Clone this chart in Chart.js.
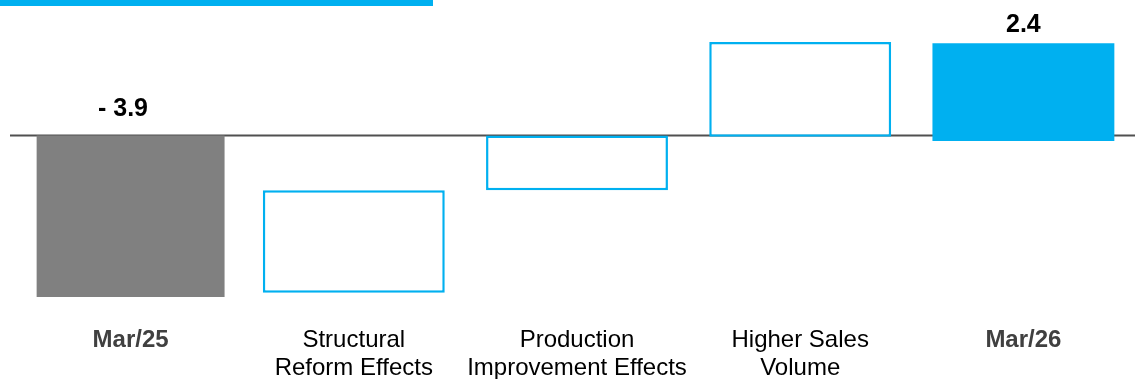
<!DOCTYPE html>
<html>
<head>
<meta charset="utf-8">
<script src="https://cdn.jsdelivr.net/npm/chart.js@4/dist/chart.umd.min.js"></script>
<style>
    body { margin: 0; background: #fff; }
    #wrap { position: relative; width: 1135px; height: 379px; }
    #topBar { position: absolute; left: 0; top: 0; width: 433px; height: 6px; background: #00b0f0; }
</style>
</head>
<body>
<div id="wrap">
    <canvas id="bridgeChart"></canvas>
    <div id="topBar"></div>
</div>
<script>
// Données (pont Mar/25 -> Mar/26)
const categories = [
    'Mar/25',
    ['Structural', 'Reform Effects'],
    ['Production', 'Improvement Effects'],
    ['Higher Sales', 'Volume'],
    'Mar/26'
];
const startBar = [[0, -3.9], null, null, null, null];
const stepBars = [null, [-3.8, -1.32], [-1.32, 0], [-0.03, 2.26], [-0.13, 2.23]];
const valueLabels = ['- 3.9', '', '', '', '2.4'];
const totalIndexes = [0, 4];

const BLUE = '#00b0f0';
const FONT = "'Liberation Sans', Arial, sans-serif";

// Ligne de base (zéro) dessinée sous les barres
const zeroLine = {
    id: 'zeroLine',
    beforeDatasetsDraw(chart) {
        const y = chart.scales.y.getPixelForValue(0);
        const ctx = chart.ctx;
        ctx.save();
        ctx.strokeStyle = '#505050';
        ctx.lineWidth = 2;
        ctx.beginPath();
        ctx.moveTo(10, y);
        ctx.lineTo(chart.width, y);
        ctx.stroke();
        ctx.restore();
    }
};

// Étiquettes de valeur au-dessus des totaux
const valueLabelPlugin = {
    id: 'valueLabels',
    afterDatasetsDraw(chart) {
        const ctx = chart.ctx;
        const zeroY = chart.scales.y.getPixelForValue(0);
        ctx.save();
        ctx.font = `bold 25px ${FONT}`;
        ctx.fillStyle = '#000';
        ctx.textBaseline = 'alphabetic';
        valueLabels.forEach((text, i) => {
            if (!text) return;
            const dsIndex = startBar[i] ? 0 : 1;
            const bar = chart.getDatasetMeta(dsIndex).data[i];
            const top = Math.min(bar.y, bar.base, zeroY);
            const negative = text.startsWith('-');
            const y = negative ? top - 20 : top - 11;
            // le signe "- " dépasse à gauche, le nombre reste centré
            const num = text.replace('- ', '');
            ctx.textAlign = 'right';
            ctx.fillText(text, bar.x + ctx.measureText(num).width / 2, y);
        });
        ctx.restore();
    }
};

new Chart(document.getElementById('bridgeChart'), {
    type: 'bar',
    data: {
        labels: categories,
        datasets: [{
            data: startBar,
            backgroundColor: '#808080',
            borderWidth: 0,
            barPercentage: 0.842,
            categoryPercentage: 1
        }, {
            data: stepBars,
            backgroundColor: ['#fff', '#fff', '#fff', '#fff', BLUE],
            borderColor: BLUE,
            borderWidth: [0, 2.5, 2.5, 2.5, 0],
            borderSkipped: false,
            barPercentage: 0.815,
            categoryPercentage: 1
        }]
    },
    options: {
        responsive: true,
        maintainAspectRatio: false,
        animation: false,
        layout: { padding: { left: 19, right: 0, top: 0, bottom: 0 } },
        plugins: {
            legend: { display: false },
            tooltip: { enabled: false }
        },
        datasets: { bar: { grouped: false } },
        scales: {
            x: {
                grid: { display: false },
                border: { display: false },
                afterFit: (scale) => { scale.height = 67; },
                ticks: {
                    padding: 7,
                    maxRotation: 0,
                    autoSkip: false,
                    color: (c) => totalIndexes.includes(c.index) ? '#404040' : '#000',
                    font: (c) => ({
                        family: FONT,
                        size: 24,
                        weight: totalIndexes.includes(c.index) ? 'bold' : 'normal',
                        lineHeight: 1.15
                    })
                }
            },
            y: {
                display: false,
                min: -4.262,
                max: 3.272
            }
        }
    },
    plugins: [zeroLine, valueLabelPlugin]
});
</script>
</body>
</html>
